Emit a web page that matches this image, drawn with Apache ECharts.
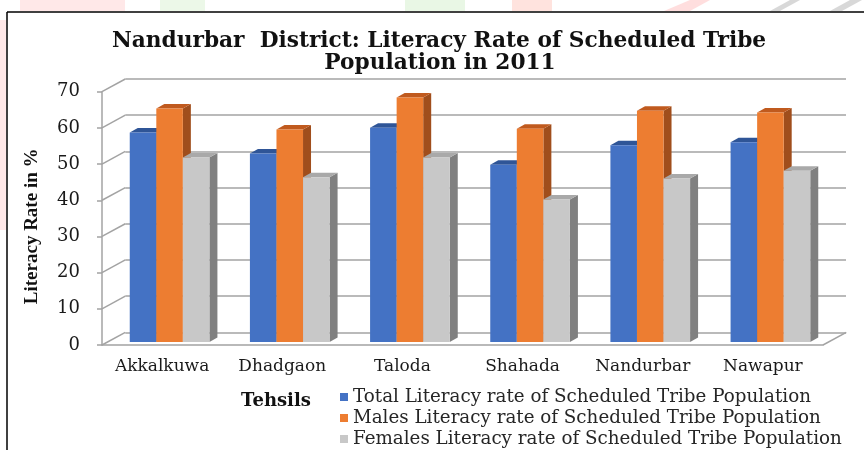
<!DOCTYPE html>
<html>
<head>
<meta charset="utf-8">
<script src="https://cdn.jsdelivr.net/npm/echarts@6/dist/echarts.min.js"></script>
<style>html,body{margin:0;padding:0;background:#fff}#c{width:864px;height:450px}</style>
</head>
<body>
<div id="c"></div>
<script>
const categories = ['Akkalkuwa', 'Dhadgaon', 'Taloda', 'Shahada', 'Nandurbar', 'Nawapur'];
const totalRate = [57.9, 52.1, 59.2, 49.0, 54.4, 55.2];
const maleRate = [64.5, 58.7, 67.6, 58.9, 63.9, 63.4];
const femaleRate = [51.0, 45.5, 51.0, 39.4, 45.2, 47.3];
const yTicks = [0, 10, 20, 30, 40, 50, 60, 70];
const seriesNames = [
  'Total Literacy rate of Scheduled Tribe Population',
  'Males Literacy rate of Scheduled Tribe Population',
  'Females Literacy rate of Scheduled Tribe Population'
];
const titleLines = ['Nandurbar  District: Literacy Rate of Scheduled Tribe', 'Population in 2011'];
const xTitle = 'Tehsils';
const yTitle = 'Literacy Rate in %';

const faces = [
  { front: '#4472C4', top: '#2F5597', side: '#2F5597' },
  { front: '#ED7D31', top: '#C05A1E', side: '#A04E1C' },
  { front: '#C8C8C8', top: '#A9A9A9', side: '#808080' }
];
const GRID_COLOR = '#a3a3a3';
const DX = 23.3, DY = 12.7;
const SDX = 8, SDY = 4.5;

function barRenderer(s) {
  return function (params, api) {
    const i = api.value(0), v = api.value(1);
    const top = api.coord([i, v]);
    const base = api.coord([i, 0]);
    const band = api.size([1, 0])[0];
    const bw = band * 0.221;
    const x0 = top[0] - 1.5 * bw + s * bw;
    const x1 = x0 + bw;
    const yt = top[1], yb = base[1];
    const f = faces[s];
    return {
      type: 'group',
      children: [
        { type: 'polygon', shape: { points: [[x1, yt], [x1 + SDX, yt - SDY], [x1 + SDX, yb - SDY], [x1, yb]] }, style: { fill: f.side } },
        { type: 'polygon', shape: { points: [[x0, yt], [x0 + SDX, yt - SDY], [x1 + SDX, yt - SDY], [x1, yt]] }, style: { fill: f.top } },
        { type: 'rect', shape: { x: x0, y: yt, width: bw, height: yb - yt }, style: { fill: f.front } }
      ]
    };
  };
}

function diagRenderer(params, api) {
  const v = api.value(1);
  const p = api.coord([0, v]);
  const cs = params.coordSys;
  const children = [
    { type: 'line', shape: { x1: cs.x, y1: p[1], x2: cs.x + DX, y2: p[1] - DY }, style: { stroke: GRID_COLOR, lineWidth: 1.5 } }
  ];
  if (v === 0) {
    children.push({ type: 'line', shape: { x1: cs.x + cs.width, y1: p[1], x2: cs.x + cs.width + DX, y2: p[1] - DY }, style: { stroke: GRID_COLOR, lineWidth: 1.5 } });
  }
  return { type: 'group', children };
}

const chart = echarts.init(document.getElementById('c'));
const valueSets = [totalRate, maleRate, femaleRate];

chart.setOption({
  backgroundColor: '#ffffff',
  animation: false,
  grid: [
    { left: 102, right: 41, top: 91.7, bottom: 105 },
    { left: 125.3, right: 18, top: 79, bottom: 117.7 },
    { left: 109.5, right: 33.5, top: 88.7, bottom: 108 }
  ],
  xAxis: [
    {
      gridIndex: 0, type: 'category', data: categories,
      axisLine: { show: true, lineStyle: { color: GRID_COLOR, width: 1.5 } },
      axisTick: { show: false },
      axisLabel: { interval: 0, hideOverlap: false, fontFamily: 'DejaVu Serif', fontSize: 17, color: '#1a1a1a', margin: 13 }
    },
    { gridIndex: 1, type: 'category', data: categories, show: false },
    { gridIndex: 2, type: 'category', data: categories, show: false }
  ],
  yAxis: [
    {
      gridIndex: 0, type: 'value', min: 0, max: 70, interval: 10,
      axisLine: { show: true, lineStyle: { color: GRID_COLOR, width: 1.5 } },
      axisTick: { show: true, length: 5, lineStyle: { color: GRID_COLOR, width: 1.5 } },
      axisLabel: { fontFamily: 'DejaVu Serif', fontSize: 18, color: '#1a1a1a', margin: 22 },
      splitLine: { show: false },
      name: yTitle, nameLocation: 'middle', nameGap: 60,
      nameTextStyle: { fontFamily: 'Liberation Serif', fontWeight: 'bold', fontSize: 19, color: '#111', padding: [0, 16, 0, 0] }
    },
    {
      gridIndex: 1, type: 'value', min: 0, max: 70, interval: 10,
      axisLine: { show: false }, axisTick: { show: false }, axisLabel: { show: false },
      splitLine: { show: true, lineStyle: { color: GRID_COLOR, width: 1.5 } }
    },
    { gridIndex: 2, type: 'value', min: 0, max: 70, interval: 10, show: false, splitLine: { show: false } }
  ],
  legend: {
    data: seriesNames,
    orient: 'vertical', left: 340, top: 388, padding: 0,
    itemWidth: 8, itemHeight: 8, itemGap: 3, icon: 'rect',
    selectedMode: false,
    textStyle: { fontFamily: 'DejaVu Serif', fontSize: 18.3, color: '#262626', lineHeight: 18 }
  },
  graphic: [
    { type: 'rect', shape: { x: 20, y: 0, width: 105, height: 11 }, style: { fill: 'rgba(255,190,190,0.35)' }, silent: true },
    { type: 'rect', shape: { x: 160, y: 0, width: 45, height: 11 }, style: { fill: 'rgba(200,235,190,0.35)' }, silent: true },
    { type: 'rect', shape: { x: 405, y: 0, width: 60, height: 11 }, style: { fill: 'rgba(200,235,190,0.4)' }, silent: true },
    { type: 'rect', shape: { x: 512, y: 0, width: 40, height: 11 }, style: { fill: 'rgba(255,200,190,0.5)' }, silent: true },
    { type: 'polygon', shape: { points: [[664, 11], [690, 0], [710, 0], [690, 11]] }, style: { fill: 'rgba(255,190,190,0.5)' }, silent: true },
    { type: 'polygon', shape: { points: [[770, 11], [790, 0], [800, 0], [780, 11]] }, style: { fill: 'rgba(190,190,190,0.6)' }, silent: true },
    { type: 'polygon', shape: { points: [[830, 11], [850, 0], [862, 0], [842, 11]] }, style: { fill: 'rgba(190,190,190,0.6)' }, silent: true },
    { type: 'rect', shape: { x: 0, y: 20, width: 6, height: 210 }, style: { fill: 'rgba(255,190,190,0.35)' }, silent: true },
    { type: 'line', shape: { x1: 7, y1: 12, x2: 864, y2: 12 }, style: { stroke: '#000', lineWidth: 1.5 }, silent: true },
    { type: 'line', shape: { x1: 7, y1: 12, x2: 7, y2: 450 }, style: { stroke: '#000', lineWidth: 1.5 }, silent: true },
    {
      type: 'text', x: 439, y: 41, silent: true,
      style: { text: titleLines[0], align: 'center', verticalAlign: 'middle', fontFamily: 'DejaVu Serif', fontWeight: 'bold', fontSize: 21.7, fill: '#111' }
    },
    {
      type: 'text', x: 440, y: 63, silent: true,
      style: { text: titleLines[1], align: 'center', verticalAlign: 'middle', fontFamily: 'DejaVu Serif', fontWeight: 'bold', fontSize: 21.7, fill: '#111' }
    },
    {
      type: 'text', x: 276, y: 401, silent: true,
      style: { text: xTitle, align: 'center', verticalAlign: 'middle', fontFamily: 'DejaVu Serif', fontWeight: 'bold', fontSize: 18, fill: '#111' }
    }
  ],
  series: [
    {
      type: 'custom', name: 'diag', xAxisIndex: 0, yAxisIndex: 0, silent: true, z: 1,
      data: yTicks.map(v => [0, v]), renderItem: diagRenderer, encode: { x: 0, y: 1 }, clip: false
    }
  ].concat(valueSets.map((vals, s) => ({
    type: 'custom', name: seriesNames[s], xAxisIndex: 2, yAxisIndex: 2, z: 3,
    itemStyle: { color: faces[s].front },
    data: vals.map((v, i) => [i, v]),
    encode: { x: 0, y: 1 },
    renderItem: barRenderer(s),
    clip: false
  })))
});
</script>
</body>
</html>
